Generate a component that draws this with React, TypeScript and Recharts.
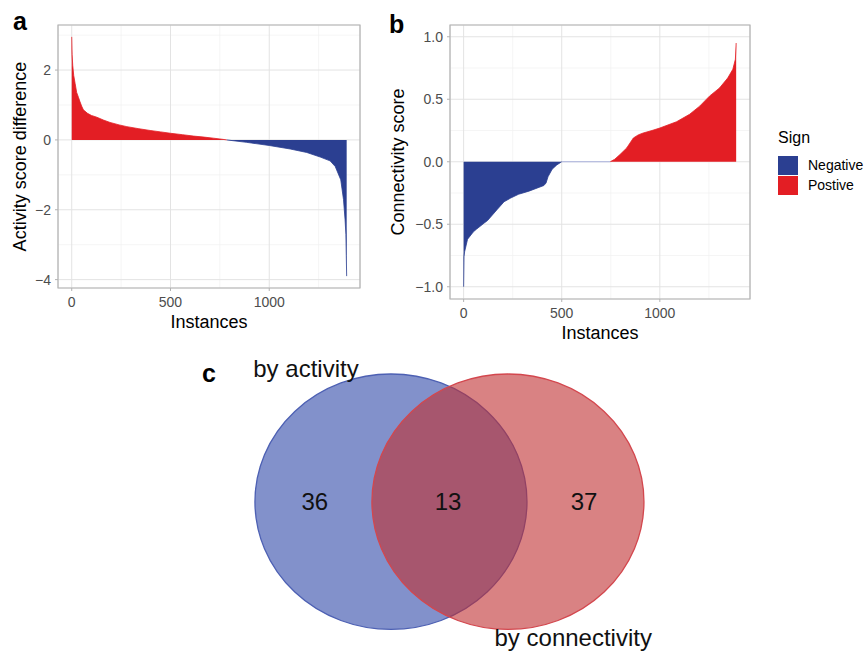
import React from "react";
import {
  ComposedChart,
  Area,
  Line,
  XAxis,
  YAxis,
  CartesianGrid,
  ReferenceArea,
  Legend,
  ScatterChart,
  Scatter,
} from "recharts";

const RED = "#e31e24";
const BLUE = "#2b3f91";
const FONT = "'Liberation Sans', Arial, Helvetica, sans-serif";
const GRID_MAJOR = "#e3e3e3";
const GRID_MINOR = "#f0f0f0";
const BORDER = "#b3b3b3";
const TICK_TEXT = "#4d4d4d";

// panel a: activity score difference, sorted
const aPosX = [0, 2, 5, 10, 17, 25, 34, 42, 50, 59, 80, 100, 127, 160, 194, 240, 279, 340, 397, 450, 500, 560, 616, 670, 717, 760, 785];
const aPosY = [2.95, 2.45, 2.14, 1.85, 1.62, 1.36, 1.22, 1.09, 0.97, 0.86, 0.76, 0.7, 0.65, 0.57, 0.5, 0.43, 0.38, 0.32, 0.27, 0.23, 0.19, 0.15, 0.11, 0.08, 0.05, 0.02, 0];
const aNegX = [785, 886, 1000, 1106, 1190, 1258, 1308, 1334, 1362, 1376, 1384, 1388, 1390, 1392];
const aNegY = [0, -0.07, -0.16, -0.26, -0.36, -0.49, -0.6, -0.76, -1.14, -1.71, -2.29, -2.7, -3.3, -3.9];

// panel b: connectivity score, sorted
const bNegX = [0, 2, 5, 20, 50, 65, 105, 122, 172, 206, 240, 280, 333, 409, 420, 430, 451, 475, 500];
const bNegY = [-1.0, -0.76, -0.72, -0.62, -0.56, -0.54, -0.49, -0.47, -0.38, -0.32, -0.29, -0.26, -0.235, -0.19, -0.17, -0.12, -0.06, -0.025, 0];
const bZeroX = [500, 747];
const bPosX = [747, 770, 797, 831, 865, 890, 915, 960, 1000, 1085, 1152, 1203, 1253, 1304, 1346, 1372, 1385, 1389];
const bPosY = [0, 0.02, 0.058, 0.11, 0.19, 0.215, 0.23, 0.25, 0.27, 0.32, 0.38, 0.445, 0.525, 0.59, 0.67, 0.74, 0.82, 0.95];

const aTicksX = [0, 500, 1000];
const aTicksY = [-4, -2, 0, 2];
const bTicksY = [-1, -0.5, 0, 0.5, 1];
const legendNames = ["Negative", "Postive"];

// panel c: venn
const vennSetNames = ["by activity", "by connectivity"];
const vennSetCx = [0, 0.86];
const vennSetR = [1, 1];
const vennTitleX = [-0.625, 1.34];
const vennTitleY = [1.043, -1.063];
const vennCounts = [36, 13, 37];
const vennCountX = [-0.56, 0.42, 1.42];

const aRows = [
  ...aPosX.map((x, k) => ({ i: x, pos: aPosY[k] })),
  ...aNegX.map((x, k) => ({ i: x, neg: aNegY[k] })),
];
const bRows = [
  ...bNegX.map((x, k) => ({ i: x, neg: bNegY[k] })),
  ...bZeroX.map((x) => ({ i: x, zero: 0 })),
  ...bPosX.map((x, k) => ({ i: x, pos: bPosY[k] })),
];

const X_DOMAIN: [number, number] = [-69.5, 1459.5];
const A_Y_DOMAIN: [number, number] = [-4.24, 3.29];
const B_Y_DOMAIN: [number, number] = [-1.098, 1.094];

const minus = (s: string) => s.replace("-", "\u2212");
const fmtA = (v: number) => minus(String(v));
const fmtB = (v: number) => minus(v.toFixed(1));

const tickStyle = { fill: TICK_TEXT, fontSize: 14, fontFamily: FONT };

const XTitle = (props: any) => {
  const { x, y, width } = props.viewBox;
  return (
    <text x={x + width / 2} y={y + 40} textAnchor="middle" fontSize={18} fontFamily={FONT} fill="#000">
      {props.value}
    </text>
  );
};

const YTitle = (dx: number) => (props: any) => {
  const { x, y, height } = props.viewBox;
  const cy = y + height / 2;
  return (
    <text
      transform={`translate(${x + dx},${cy}) rotate(-90)`}
      textAnchor="middle"
      dominantBaseline="central"
      fontSize={18}
      fontFamily={FONT}
      fill="#000"
    >
      {props.value}
    </text>
  );
};

const SignLegend = () => (
  <div style={{ fontFamily: FONT, color: "#000" }}>
    <div style={{ fontSize: 16, height: 18, lineHeight: "18px", marginBottom: 8 }}>Sign</div>
    {legendNames.map((name) => (
      <div key={name} style={{ display: "flex", alignItems: "center", height: 20 }}>
        <span style={{ width: 20, height: 19, background: name === "Negative" ? BLUE : RED, marginRight: 10 }} />
        <span style={{ fontSize: 14, whiteSpace: "nowrap" }}>{name}</span>
      </div>
    ))}
  </div>
);

const Ellipse = (p: any) => (
  <ellipse
    cx={p.x + p.width / 2}
    cy={p.y + p.height / 2}
    rx={p.width / 2}
    ry={p.height / 2}
    fill={p.fill}
    fillOpacity={p.fillOpacity}
    stroke={p.stroke}
    strokeWidth={1.3}
  />
);

// text drawn at the point position (centred)
const TextMark = (p: any) => (
  <text x={p.cx} y={p.cy + 8.5} textAnchor="middle" fontSize={24} fontFamily={FONT} fill="#111">
    {p.payload.label}
  </text>
);

const vennColors = [
  { fill: "#2e47a8", stroke: "#4d60b3" },
  { fill: "#c02f30", stroke: "#d3474e" },
];

function PanelA() {
  return (
    <ComposedChart width={370} height={340} data={aRows} margin={{ top: 25, right: 10, bottom: 0, left: 0 }}>
      <CartesianGrid stroke={GRID_MINOR} strokeWidth={0.7} horizontalValues={[-3, -1, 1, 3]} verticalValues={[250, 750, 1250]} />
      <CartesianGrid stroke={GRID_MAJOR} />
      <XAxis
        dataKey="i"
        type="number"
        domain={X_DOMAIN}
        allowDataOverflow
        ticks={aTicksX}
        tickSize={3}
        tickMargin={6}
        axisLine={false}
        tickLine={{ stroke: BORDER }}
        tick={tickStyle}
        height={52}
        label={{ value: "Instances", content: XTitle }}
      />
      <YAxis
        type="number"
        domain={A_Y_DOMAIN}
        allowDataOverflow
        ticks={aTicksY}
        tickFormatter={fmtA}
        tickSize={3}
        tickMargin={4}
        axisLine={false}
        tickLine={{ stroke: BORDER }}
        tick={tickStyle}
        width={58}
        label={{ value: "Activity score difference", content: YTitle(20) }}
      />
      <Area dataKey="pos" type="linear" baseValue={0} fill={RED} fillOpacity={1} stroke={RED} strokeWidth={0.8} isAnimationActive={false} />
      <Area dataKey="neg" type="linear" baseValue={0} fill={BLUE} fillOpacity={1} stroke={BLUE} strokeWidth={0.8} isAnimationActive={false} />
      <ReferenceArea x1={X_DOMAIN[0]} x2={X_DOMAIN[1]} y1={A_Y_DOMAIN[0]} y2={A_Y_DOMAIN[1]} fill="none" stroke={BORDER} strokeWidth={1.2} ifOverflow="visible" />
    </ComposedChart>
  );
}

function PanelB() {
  return (
    <ComposedChart width={486} height={350} data={bRows} margin={{ top: 25, right: 116, bottom: 0, left: 0 }}>
      <CartesianGrid stroke={GRID_MINOR} strokeWidth={0.7} horizontalValues={[-0.75, -0.25, 0.25, 0.75]} verticalValues={[250, 750, 1250]} />
      <CartesianGrid stroke={GRID_MAJOR} />
      <XAxis
        dataKey="i"
        type="number"
        domain={X_DOMAIN}
        allowDataOverflow
        ticks={aTicksX}
        tickSize={3}
        tickMargin={6}
        axisLine={false}
        tickLine={{ stroke: BORDER }}
        tick={tickStyle}
        height={51}
        label={{ value: "Instances", content: XTitle }}
      />
      <YAxis
        type="number"
        domain={B_Y_DOMAIN}
        allowDataOverflow
        ticks={bTicksY}
        tickFormatter={fmtB}
        tickSize={3}
        tickMargin={4}
        axisLine={false}
        tickLine={{ stroke: BORDER }}
        tick={tickStyle}
        width={70}
        label={{ value: "Connectivity score", content: YTitle(18) }}
      />
      <Area name="Negative" dataKey="neg" type="linear" baseValue={0} fill={BLUE} fillOpacity={1} stroke={BLUE} strokeWidth={0.8} isAnimationActive={false} />
      <Area name="Postive" dataKey="pos" type="linear" baseValue={0} fill={RED} fillOpacity={1} stroke={RED} strokeWidth={0.8} isAnimationActive={false} />
      <Line dataKey="zero" stroke="#a9b1dc" strokeWidth={1} dot={false} legendType="none" isAnimationActive={false} />
      <ReferenceArea x1={X_DOMAIN[0]} x2={X_DOMAIN[1]} y1={B_Y_DOMAIN[0]} y2={B_Y_DOMAIN[1]} fill="none" stroke={BORDER} strokeWidth={1.2} ifOverflow="visible" />
      <Legend
        layout="vertical"
        align="center"
        verticalAlign="middle"
        content={SignLegend}
        wrapperStyle={{ left: 398, top: 129, width: 120 }}
      />
    </ComposedChart>
  );
}

function PanelC() {
  const titles = vennSetNames.map((label, k) => ({ x: vennTitleX[k], y: vennTitleY[k], label }));
  const counts = vennCounts.map((count, k) => ({ x: vennCountX[k], y: 0, label: String(count) }));
  return (
    <ScatterChart width={480} height={305} margin={{ top: 0, right: 0, bottom: 0, left: 0 }}>
      <XAxis dataKey="x" type="number" domain={[-1.404, 2.125]} allowDataOverflow hide />
      <YAxis dataKey="y" type="number" domain={[-1.2, 1.188]} allowDataOverflow hide />
      {vennSetNames.map((name, k) => (
        <ReferenceArea
          key={name}
          x1={vennSetCx[k] - vennSetR[k]}
          x2={vennSetCx[k] + vennSetR[k]}
          y1={-vennSetR[k]}
          y2={vennSetR[k]}
          fill={vennColors[k].fill}
          fillOpacity={0.6}
          stroke={vennColors[k].stroke}
          ifOverflow="visible"
          shape={Ellipse}
        />
      ))}
      <Scatter data={counts} shape={TextMark} isAnimationActive={false} />
      <Scatter data={titles} shape={TextMark} isAnimationActive={false} />
    </ScatterChart>
  );
}

export default function App() {
  return (
    <div style={{ position: "absolute", left: 0, top: 0, width: 866, height: 655, background: "#fff", overflow: "hidden" }}>
      <div style={{ position: "absolute", left: 0, top: 0 }}>
        <PanelA />
      </div>
      <div style={{ position: "absolute", left: 380, top: 0 }}>
        <PanelB />
      </div>
      <div style={{ position: "absolute", left: 200, top: 350 }}>
        <PanelC />
      </div>
      <svg width={866} height={655} style={{ position: "absolute", left: 0, top: 0, pointerEvents: "none" }}>
        <g fontFamily={FONT} fontWeight="bold" fontSize={25} fill="#000">
          <text x={13} y={30}>a</text>
          <text x={389} y={33}>b</text>
          <text x={202} y={382}>c</text>
        </g>
      </svg>
    </div>
  );
}
